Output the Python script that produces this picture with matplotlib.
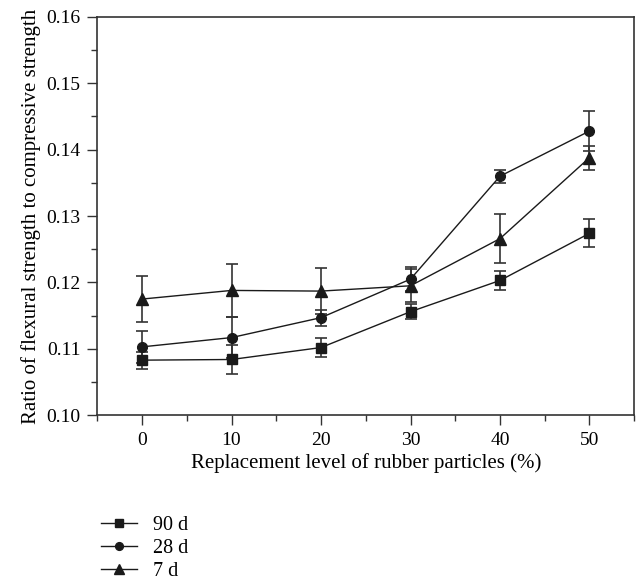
#!/usr/bin/env python3
"""
Ratio of flexural to compressive strength vs rubber replacement level.
"""

import matplotlib
matplotlib.use("Agg")
import matplotlib.pyplot as plt
from matplotlib.ticker import MultipleLocator
from matplotlib.lines import Line2D

# Data
replacement = [0, 10, 20, 30, 40, 50]

ratio_90d = [0.1083, 0.1084, 0.1102, 0.1156, 0.1203, 0.1274]
err_90d = [0.0013, 0.0022, 0.0014, 0.0011, 0.0015, 0.0021]

ratio_28d = [0.1103, 0.1117, 0.1147, 0.1205, 0.1360, 0.1428]
err_28d = [0.0024, 0.0031, 0.0012, 0.0018, 0.0010, 0.0030]

ratio_7d = [0.1175, 0.1188, 0.1187, 0.1195, 0.1266, 0.1388]
err_7d = [0.0035, 0.0040, 0.0035, 0.0025, 0.0037, 0.0018]

series_labels = ["90 d", "28 d", "7 d"]

plt.rcParams["font.family"] = ["Liberation Serif", "DejaVu Serif"]

fig = plt.figure(figsize=(6.4, 5.8), dpi=100)
ax = fig.add_axes([0.152, 0.284, 0.839, 0.687])

axis_color = "#333333"
series = [
    (ratio_90d, err_90d, "s", 6.5),
    (ratio_28d, err_28d, "o", 7),
    (ratio_7d, err_7d, "^", 8.5),
]
for vals, errs, marker, ms in series:
    ax.errorbar(
        replacement,
        vals,
        yerr=errs,
        color="#1a1a1a",
        ecolor="#333333",
        marker=marker,
        markersize=ms,
        linewidth=1.0,
        elinewidth=1.2,
        capsize=4,
        capthick=1.2,
    )

ax.set_xlim(-5, 55)
ax.set_ylim(0.10, 0.16)
ax.xaxis.set_major_locator(MultipleLocator(10))
ax.xaxis.set_minor_locator(MultipleLocator(5))
ax.yaxis.set_major_locator(MultipleLocator(0.01))
ax.yaxis.set_minor_locator(MultipleLocator(0.005))
ax.yaxis.set_major_formatter(plt.FuncFormatter(lambda v, p: f"{v:.2f}"))

ax.tick_params(which="major", direction="out", length=7, width=1.0,
               color=axis_color, labelsize=14, pad=5)
ax.tick_params(which="minor", direction="out", length=4, width=1.0,
               color=axis_color)
for sp in ax.spines.values():
    sp.set_color(axis_color)
    sp.set_linewidth(1.2)

ax.set_xlabel("Replacement level of rubber particles (%)", fontsize=15, labelpad=3)
ax.set_ylabel("Ratio of flexural strength to compressive strength",
              fontsize=15, labelpad=4)

# Legend below the axes, aligned with the left spine
handles = [
    Line2D([0], [0], color="#1a1a1a", marker=m, markersize=s * 0.8, linewidth=1.0)
    for _, _, m, s in series
]
fig.legend(
    handles,
    series_labels,
    loc="upper left",
    bbox_to_anchor=(0.145, 0.125),
    frameon=False,
    fontsize=14.5,
    handlelength=1.8,
    handletextpad=0.8,
    labelspacing=0.2,
    borderaxespad=0,
)

plt.savefig("out.png", dpi=100)
